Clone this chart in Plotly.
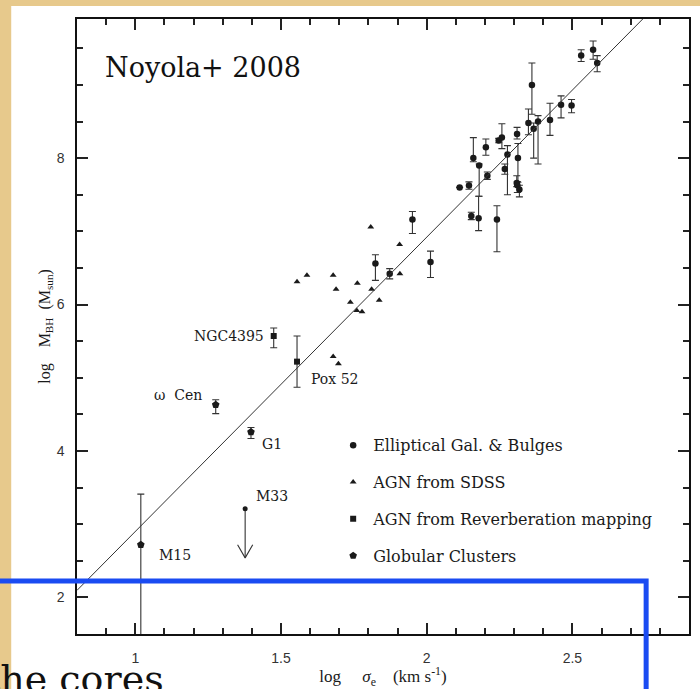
import plotly.graph_objects as go

# ---------------- data ----------------
# Elliptical galaxies & bulges: log sigma, log M_BH, +err, -err
ell_x = [1.824, 1.873, 1.951, 2.013, 2.113, 2.145, 2.153, 2.160, 2.180, 2.178,
         2.203, 2.208, 2.241, 2.247, 2.258, 2.277, 2.268, 2.310, 2.313, 2.309,
         2.311, 2.318, 2.349, 2.361, 2.367, 2.382, 2.423, 2.461, 2.497, 2.530,
         2.571, 2.585]
ell_y = [6.56, 6.42, 7.16, 6.58, 7.60, 7.625, 7.21, 8.00, 7.90, 7.18,
         8.15, 7.76, 7.16, 8.24, 8.28, 8.05, 7.85, 8.33, 8.00, 7.66,
         7.63, 7.57, 8.48, 9.00, 8.40, 8.50, 8.52, 8.73, 8.72, 9.40,
         9.48, 9.30]
ell_ep = [0.12, 0.07, 0.11, 0.15, 0.0, 0.05, 0.05, 0.28, 0.02, 0.30,
          0.11, 0.05, 0.19, 0.03, 0.19, 0.12, 0.07, 0.09, 0.20, 0.10,
          0.05, 0.06, 0.19, 0.30, 0.08, 0.08, 0.23, 0.12, 0.08, 0.08,
          0.12, 0.10]
ell_em = [0.23, 0.07, 0.19, 0.21, 0.0, 0.05, 0.05, 0.05, 0.42, 0.17,
          0.11, 0.05, 0.44, 0.03, 0.15, 0.55, 0.07, 0.07, 0.33, 0.05,
          0.10, 0.10, 0.16, 0.40, 0.40, 0.58, 0.21, 0.18, 0.10, 0.08,
          0.13, 0.12]

# AGN from SDSS
sdss_x = [1.555, 1.589, 1.679, 1.689, 1.762, 1.738, 1.760, 1.778, 1.811, 1.837,
          1.908, 1.808, 1.907, 1.679, 1.697]
sdss_y = [6.31, 6.40, 6.40, 6.21, 6.29, 6.03, 5.92, 5.90, 6.21, 6.06,
          6.42, 7.06, 6.82, 5.29, 5.19]

# AGN from reverberation mapping
rm_names = ["NGC4395", "Pox 52"]
rm_x = [1.475, 1.555]
rm_y = [5.57, 5.22]
rm_ep = [0.11, 0.35]
rm_em = [0.16, 0.35]

# Globular clusters
gc_names = ["\u03c9  Cen", "G1", "M15"]
gc_x = [1.276, 1.397, 1.019]
gc_y = [4.63, 4.26, 2.72]
gc_ep = [0.07, 0.06, 0.69]
gc_em = [0.12, 0.09, 2.72]

# M33 upper limit
m33_x = [1.377]
m33_y = [3.21]
m33_arrow = 0.67

# M-sigma relation (Tremaine et al. 2002): log M = a + b (log sigma - log 200)
rel_a, rel_b, rel_pivot = 8.13, 4.02, 2.301

x_range = [0.8, 2.9]
y_range = [1.5, 9.9]
x_major, x_minor = 0.5, 0.1
y_major, y_minor = 2, 0.5

# ---------------- figure ----------------
W, H = 700, 689
ML, MR, MT, MB = 77, 9, 19, 54
PW, PH = W - ML - MR, H - MT - MB


def px2paper_x(px):
    return (px - ML) / PW


def px2paper_y(py):
    return (H - MB - py) / PH


serif = "DejaVu Serif"
ink = "#1a1a1a"

fig = go.Figure()

# relation line (on the mirrored-major axes, identical ranges)
lx = x_range
ly = [rel_a + rel_b * (v - rel_pivot) for v in lx]
fig.add_trace(go.Scatter(x=lx, y=ly, mode="lines", line=dict(color="#333", width=1),
                         xaxis="x2", yaxis="y2", showlegend=False, hoverinfo="skip"))
# empty traces so the minor-tick axes are laid out
for k in ("3", "4"):
    fig.add_trace(go.Scatter(x=[], y=[], mode="markers", xaxis="x" + k, yaxis="y" + k,
                             showlegend=False, hoverinfo="skip"))

err_style = dict(type="data", symmetric=False, color="#333", thickness=1.1, width=3.5)

fig.add_trace(go.Scatter(
    x=ell_x, y=ell_y, mode="markers", name="Elliptical Gal. &amp; Bulges",
    marker=dict(symbol="circle", size=6.5, color=ink),
    error_y=dict(array=ell_ep, arrayminus=ell_em, **err_style),
    legendgroup="a"))

fig.add_trace(go.Scatter(
    x=sdss_x, y=sdss_y, mode="markers", name="AGN from SDSS",
    marker=dict(symbol="triangle-up", size=6, color=ink),
    legendgroup="b"))

fig.add_trace(go.Scatter(
    x=rm_x, y=rm_y, mode="markers", name="AGN from Reverberation mapping",
    marker=dict(symbol="square", size=6, color=ink),
    error_y=dict(array=rm_ep, arrayminus=rm_em, **err_style),
    legendgroup="c"))

fig.add_trace(go.Scatter(
    x=gc_x, y=gc_y, mode="markers", name="Globular Clusters",
    marker=dict(symbol="pentagon", size=8, color=ink),
    error_y=dict(array=gc_ep, arrayminus=gc_em, **err_style),
    legendgroup="d"))

# M33 upper limit with open arrow
head_hw, head_len = 0.026, 0.18
ax, ay = m33_x[0], m33_y[0]
tip = ay - m33_arrow
arr_x = [ax, ax, None, ax - head_hw, ax, ax + head_hw]
arr_y = [ay, tip, None, tip + head_len, tip, tip + head_len]
fig.add_trace(go.Scatter(x=arr_x, y=arr_y, mode="lines", line=dict(color="#333", width=1.1),
                         showlegend=False, hoverinfo="skip"))
fig.add_trace(go.Scatter(x=m33_x, y=m33_y, mode="markers",
                         marker=dict(symbol="circle", size=5, color=ink),
                         showlegend=False))

# point labels
lab_font = dict(family=serif, size=14, color=ink)
label_specs = [
    ("NGC4395", rm_x[0], rm_y[0], "right", -8, 0),
    ("Pox 52", rm_x[1], rm_y[1], "left", 12, -17),
    (gc_names[0], gc_x[0], gc_y[0], "right", -12, 10),
    ("G1", gc_x[1], gc_y[1], "left", 9, -12),
    ("M15", gc_x[2], gc_y[2], "left", 16, -10),
    ("M33", m33_x[0], m33_y[0], "left", 9, 13),
]
for txt, x, y, anc, xs, ys in label_specs:
    fig.add_annotation(x=x, y=y, xref="x", yref="y", text=txt, showarrow=False,
                       xanchor=anc, yanchor="middle", xshift=xs, yshift=ys, font=lab_font)

# "Noyola+ 2008"
fig.add_annotation(x=px2paper_x(103), y=px2paper_y(68), xref="paper", yref="paper",
                   text="Noyola+ 2008", showarrow=False, xanchor="left", yanchor="middle",
                   font=dict(family=serif, size=27, color="#111"))

# slide text partially visible at the bottom
fig.add_annotation(x=px2paper_x(-17), y=px2paper_y(656), xref="paper", yref="paper",
                   text="the cores", showarrow=False, xanchor="left", yanchor="top",
                   font=dict(family=serif, size=38, color="#111"))

# parchment strips (slide background) and blue frame
tan = "#e7c98c"
shapes = [
    dict(type="rect", xref="paper", yref="paper", layer="below",
         x0=px2paper_x(-20), x1=px2paper_x(11), y0=px2paper_y(720), y1=px2paper_y(-20),
         fillcolor=tan, line=dict(width=0)),
    dict(type="rect", xref="paper", yref="paper", layer="below",
         x0=px2paper_x(-20), x1=px2paper_x(720), y0=px2paper_y(6), y1=px2paper_y(-20),
         fillcolor=tan, line=dict(width=0)),
    dict(type="rect", xref="paper", yref="paper", layer="above",
         x0=px2paper_x(-40), x1=px2paper_x(648), y0=px2paper_y(740), y1=px2paper_y(582),
         fillcolor="rgba(0,0,0,0)", line=dict(color="#1a4bf2", width=5)),
]

tick_base = dict(ticks="inside", tickwidth=1.6, tickcolor="#222",
                 showgrid=False, zeroline=False)
main_common = dict(showline=True, linecolor="#111", linewidth=1.5, mirror=True,
                   ticklen=11, tickfont=dict(family="Liberation Sans", size=14, color="#333"),
                   **tick_base)
extra_common = dict(showline=False, showticklabels=False, **tick_base)

xmaj = dict(range=x_range, tick0=1, dtick=x_major)
xmin = dict(range=x_range, tick0=1, dtick=x_minor)
ymaj = dict(range=y_range, tick0=0, dtick=y_major)
ymin = dict(range=y_range, tick0=0, dtick=y_minor)

fig.update_layout(
    width=W, height=H,
    margin=dict(l=ML, r=MR, t=MT, b=MB, pad=0),
    paper_bgcolor="white", plot_bgcolor="white",
    shapes=shapes,
    xaxis=dict(ticklabelstandoff=10,
               title=dict(text="log\u00a0\u00a0\u00a0\u00a0 <i>\u03c3</i><sub>e</sub>\u00a0\u00a0\u00a0 (km s<sup>-1</sup>)",
                          font=dict(family="Liberation Serif", size=17, color=ink), standoff=3),
               **xmaj, **main_common),
    yaxis=dict(ticklabelstandoff=8,
               title=dict(text="log\u00a0\u00a0\u00a0 M<sub>BH</sub>\u00a0 (M<sub>sun</sub>)",
                          font=dict(family="Liberation Serif", size=16, color=ink), standoff=2),
               **ymaj, **main_common),
    xaxis2=dict(overlaying="x", side="top", anchor="y2", ticklen=11, **xmaj, **extra_common),
    yaxis2=dict(overlaying="y", side="right", anchor="x2", ticklen=11, **ymaj, **extra_common),
    xaxis3=dict(overlaying="x", side="bottom", anchor="y3", ticklen=6, **xmin, **extra_common),
    yaxis3=dict(overlaying="y", side="left", anchor="x3", ticklen=6, **ymin, **extra_common),
    xaxis4=dict(overlaying="x", side="top", anchor="y4", ticklen=6, **xmin, **extra_common),
    yaxis4=dict(overlaying="y", side="right", anchor="x4", ticklen=6, **ymin, **extra_common),
    legend=dict(x=px2paper_x(334), y=px2paper_y(429), xanchor="left", yanchor="top",
                bgcolor="rgba(0,0,0,0)", borderwidth=0, tracegroupgap=13,
                font=dict(family=serif, size=16, color=ink), traceorder="grouped"),
    showlegend=True,
)

fig.write_html("out.html")
